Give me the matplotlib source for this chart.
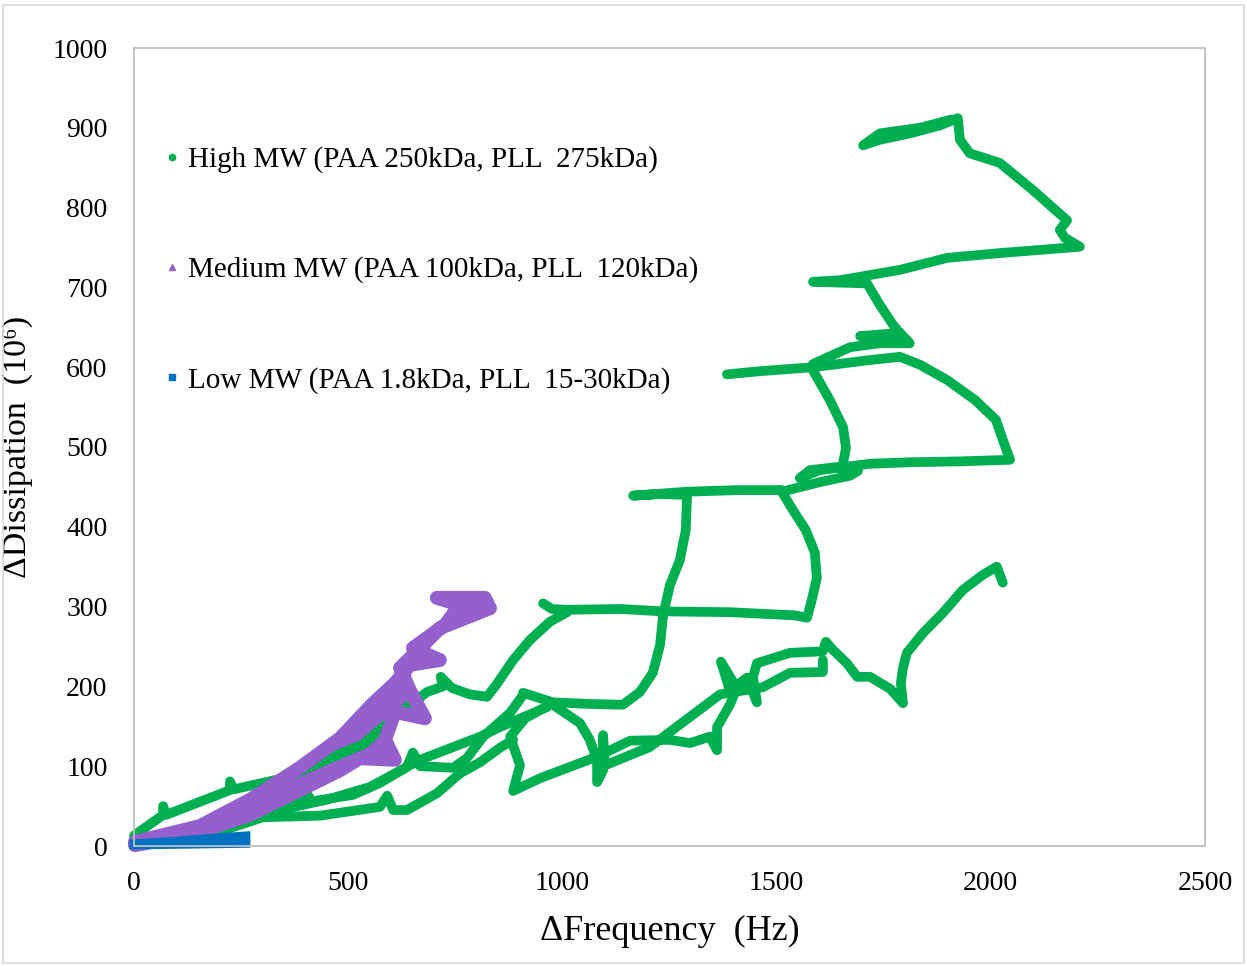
import matplotlib
matplotlib.use("Agg")
import matplotlib.pyplot as plt
from matplotlib.lines import Line2D
from matplotlib.patches import Rectangle

# QCM-D traces, (dFrequency Hz, dDissipation 1e-6)
# high MW: several overtone runs, drawn as separate strokes
high_upper_start = [(0, 13), (68, 39), (68, 50), (75, 39), (224, 70), (224, 81), (233, 71),
                    (357, 86), (457, 110), (534, 127), (614, 164), (684, 193), (721, 200),
                    (716, 212), (742, 198), (784, 190), (824, 187), (847, 203), (885, 233),
                    (924, 258), (971, 281), (1011, 293)]
high_step_300_480_600 = [(955, 304), (976, 297), (1011, 296), (1134, 297), (1235, 294),
                         (1391, 293), (1543, 289), (1571, 286), (1582, 308), (1594, 336),
                         (1589, 368), (1568, 396), (1538, 421), (1512, 444), (1601, 456),
                         (1671, 464), (1690, 470), (1659, 476), (1578, 471), (1554, 461),
                         (1601, 471), (1718, 479), (1818, 481), (1928, 482), (2045, 484),
                         (2028, 509), (2012, 534), (1963, 559), (1898, 584), (1835, 603),
                         (1788, 613), (1718, 609), (1585, 600), (1461, 595), (1384, 591)]
high_step_600_700_top = [(1585, 604), (1671, 625), (1741, 630), (1811, 630), (1788, 643),
                         (1695, 639), (1795, 638), (1772, 653), (1741, 678), (1711, 705),
                         (1585, 707), (1648, 709), (1788, 722), (1898, 737), (2021, 743),
                         (2115, 747), (2208, 751), (2173, 762), (2161, 772), (2178, 784),
                         (2138, 803), (2098, 822), (2021, 856), (1951, 868), (1928, 885),
                         (1923, 912), (1881, 903), (1811, 893), (1741, 885), (1702, 878),
                         (1741, 893), (1835, 900), (1905, 910)]
high_drop_600_480 = [(1585, 596), (1624, 559), (1655, 525), (1662, 499), (1652, 471)]
high_step_180_440 = [(908, 192), (978, 180), (1064, 178), (1141, 177), (1181, 193),
                     (1211, 217), (1228, 252), (1235, 289), (1251, 327), (1274, 358),
                     (1288, 396), (1291, 440), (1228, 441), (1165, 439), (1291, 444),
                     (1414, 446), (1512, 446)]
high_low_a = [(0, 5), (154, 18), (287, 35), (387, 58), (399, 70), (415, 56), (511, 64),
              (574, 79), (637, 99), (651, 117), (668, 100), (745, 98), (777, 110),
              (815, 137), (878, 167), (908, 189)]
high_low_b = [(271, 39), (364, 48), (450, 58), (551, 74), (668, 108), (745, 124),
              (808, 137), (854, 149), (964, 174)]
high_low_c = [(177, 14), (301, 36), (434, 38), (574, 49), (591, 63), (605, 45), (637, 45),
              (707, 66), (761, 91), (808, 105), (854, 123), (885, 133)]
high_lower_run = [(964, 175), (913, 160), (878, 137), (901, 101), (885, 69), (948, 85),
                  (1081, 112), (1158, 132), (1251, 133), (1298, 129), (1344, 137),
                  (1361, 120), (1361, 149), (1391, 177), (1407, 198), (1370, 231),
                  (1391, 195), (1431, 211), (1454, 180), (1445, 212), (1454, 229),
                  (1531, 242), (1608, 244), (1615, 256), (1631, 246), (1664, 229),
                  (1688, 212), (1718, 212), (1765, 197), (1795, 179), (1790, 204),
                  (1795, 223), (1804, 242), (1842, 267), (1888, 292), (1935, 321),
                  (1982, 340), (2014, 350), (2028, 330)]
high_lower_arc = [(978, 177), (1041, 154), (1064, 133), (1081, 108), (1081, 80), (1095, 95),
                  (1095, 139), (1099, 101), (1204, 124), (1281, 155), (1368, 190),
                  (1468, 199), (1531, 217), (1608, 218), (1608, 233)]

# medium MW: out along the upper edge of the cloud, back along the lower edge
medium_f = [2, 154, 271, 387, 481, 555, 609, 644, 714, 651, 726, 761, 707, 819, 831,
            808, 714, 668, 621, 644, 679, 609, 586, 609, 527, 481, 387, 271, 131, 2]
medium_d = [5, 25, 58, 98, 135, 177, 204, 227, 233, 248, 277, 302, 311, 311, 298,
            293, 273, 248, 223, 195, 160, 168, 133, 108, 110, 95, 70, 39, 14, 1]

# low MW
low_f = [0, 130, 262, 262, 180, 90, 0]
low_d = [1, 2, 3, 13, 10, 6, 3]

green = "#00B050"
purple = "#9460CE"
blue = "#0070C0"

high_runs = [high_upper_start, high_step_300_480_600, high_step_600_700_top,
             high_drop_600_480, high_step_180_440, high_low_a, high_low_b, high_low_c,
             high_lower_run, high_lower_arc]

plt.rcParams["font.family"] = ["Liberation Serif", "DejaVu Serif"]

fig = plt.figure(figsize=(12.47, 9.66), dpi=100)
ax = fig.add_axes([134 / 1247, 1 - 846 / 966, 1071 / 1247, 798 / 966])

for run in high_runs:
    xs = [p[0] for p in run]
    ys = [p[1] for p in run]
    ax.plot(xs, ys, color=green, lw=7, solid_capstyle="round",
            solid_joinstyle="round", clip_on=False)

ax.plot(medium_f, medium_d, color=purple, lw=10, solid_capstyle="round",
        solid_joinstyle="round", clip_on=False)
ax.fill(medium_f, medium_d, color=purple, lw=0, clip_on=False)
ax.plot(low_f, low_d, color=blue, lw=6, solid_joinstyle="miter", clip_on=False)
ax.fill(low_f, low_d, color=blue, lw=0, clip_on=False)

ax.set_xlim(0, 2500)
ax.set_ylim(0, 1000)
ax.set_xticks(range(0, 2501, 500))
ax.set_yticks(range(0, 1001, 100))
ax.tick_params(length=0, labelsize=20)
ax.tick_params(axis="x", pad=18)
ax.tick_params(axis="y", pad=19)
for sp in ax.spines.values():
    sp.set_color("#BFBFBF")
    sp.set_linewidth(1.3)

ax.set_xlabel("ΔFrequency  (Hz)", fontsize=26, labelpad=14)
ax.set_ylabel("ΔDissipation  (10⁶)", fontsize=24.5, labelpad=14)

handles = [
    Line2D([], [], ls="none", marker="o", ms=4.5, color=green),
    Line2D([], [], ls="none", marker="^", ms=4.5, color=purple),
    Line2D([], [], ls="none", marker="s", ms=4.5, color=blue),
]
labels = ["High MW (PAA 250kDa, PLL  275kDa)",
          "Medium MW (PAA 100kDa, PLL  120kDa)",
          "Low MW (PAA 1.8kDa, PLL  15-30kDa)"]
ax.legend(handles, labels, loc="upper left", bbox_to_anchor=(0.030, 0.877),
          frameon=False, fontsize=21, handlelength=0.4, handletextpad=0.35,
          labelspacing=2.86, borderpad=0, borderaxespad=0)

fig.patches.append(Rectangle((3 / 1247, 3 / 966), 1241 / 1247, 958 / 966,
                             transform=fig.transFigure, fill=False,
                             edgecolor="#D9D9D9", lw=1.2))

fig.savefig("out.png", dpi=100)
